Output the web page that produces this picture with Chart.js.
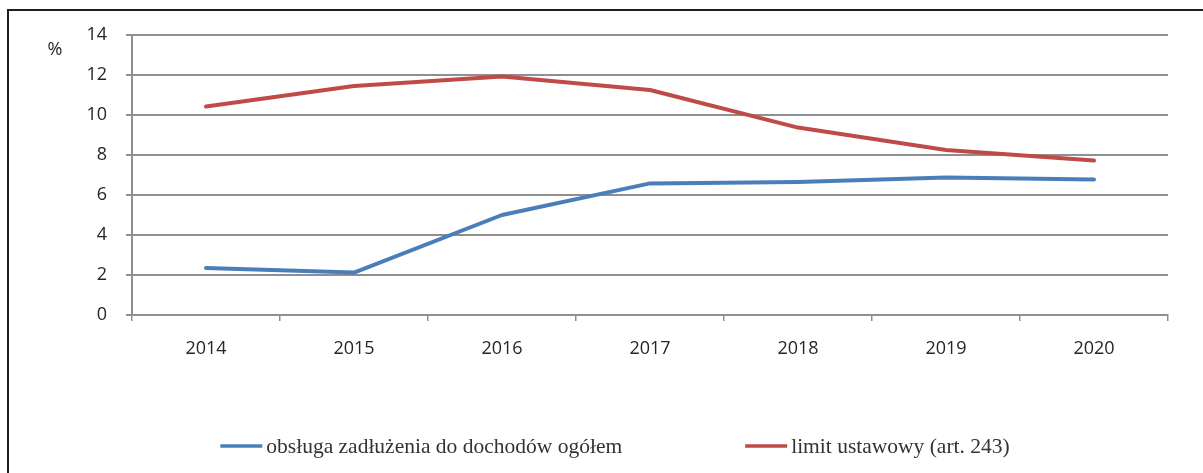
<!DOCTYPE html>
<html>
<head>
<meta charset="utf-8">
<script src="https://cdn.jsdelivr.net/npm/chart.js@4/dist/chart.umd.min.js"></script>
<style>
  html, body { margin: 0; padding: 0; background: #fff; }
  #wrap { width: 1203px; height: 473px; position: relative; }
</style>
</head>
<body>
<div id="wrap"><canvas id="chart"></canvas></div>
<script>
// --- Data ---
const years = ['2014', '2015', '2016', '2017', '2018', '2019', '2020'];
const debtService = [2.35, 2.12, 5.0, 6.58, 6.65, 6.88, 6.78];
const statutoryLimit = [10.42, 11.45, 11.92, 11.25, 9.37, 8.25, 7.72];
const seriesNames = ['obsługa zadłużenia do dochodów ogółem', 'limit ustawowy (art. 243)'];
const yTicks = [0, 2, 4, 6, 8, 10, 12, 14];

const gridColor = '#8f8f8f';
const textColor = '#262626';

// frame round the whole picture, "%" unit label and the legend underneath
const extras = {
    id: 'extras',
    beforeDraw(chart) {
        const ctx = chart.ctx;
        ctx.save();
        ctx.strokeStyle = '#1e1e1e';
        ctx.lineWidth = 2;
        ctx.beginPath();
        ctx.moveTo(8, chart.height);
        ctx.lineTo(8, 10);
        ctx.lineTo(chart.width, 10);
        ctx.stroke();
        ctx.restore();
    },
    afterDraw(chart) {
        const ctx = chart.ctx;
        const area = chart.chartArea;
        ctx.save();
        ctx.fillStyle = textColor;
        ctx.font = '18px "Open Sans"';
        ctx.textAlign = 'center';
        ctx.textBaseline = 'middle';
        ctx.fillText('%', area.left - 77, area.top + 15);

        // legend
        ctx.font = '21.5px "Liberation Serif"';
        ctx.textAlign = 'left';
        const lineLen = 42, gap = 4, spacing = 123;
        const items = chart.data.datasets.map(ds => ({
            color: ds.borderColor, label: ds.label,
            w: lineLen + gap + ctx.measureText(ds.label).width
        }));
        const total = items.reduce((s, it) => s + it.w, 0) + spacing * (items.length - 1);
        let x = 615 - total / 2;
        const y = 446;
        items.forEach(it => {
            ctx.strokeStyle = it.color;
            ctx.lineWidth = 3.5;
            ctx.beginPath();
            ctx.moveTo(x, y);
            ctx.lineTo(x + lineLen, y);
            ctx.stroke();
            ctx.fillStyle = '#333';
            ctx.fillText(it.label, x + lineLen + gap, y + 1);
            x += it.w + spacing;
        });
        ctx.restore();
    }
};

new Chart(document.getElementById('chart'), {
    type: 'line',
    data: {
        labels: years,
        datasets: [
            { label: seriesNames[0], data: debtService, borderColor: '#4a7ebb', backgroundColor: '#4a7ebb' },
            { label: seriesNames[1], data: statutoryLimit, borderColor: '#be4b48', backgroundColor: '#be4b48' }
        ]
    },
    options: {
        responsive: true,
        maintainAspectRatio: false,
        animation: false,
        layout: { padding: { top: 35, right: 35, left: 0, bottom: 0 } },
        elements: {
            line: { borderWidth: 4, tension: 0, borderCapStyle: 'round', borderJoinStyle: 'round' },
            point: { radius: 0, hoverRadius: 0 }
        },
        plugins: { legend: { display: false }, tooltip: { enabled: false } },
        scales: {
            x: {
                offset: true,
                grid: { offset: true, drawOnChartArea: false, color: gridColor, lineWidth: 1.5, tickLength: 6 },
                border: { color: gridColor, width: 2 },
                ticks: { color: textColor, font: { family: 'Open Sans', size: 18 }, padding: 17, maxRotation: 0 },
                afterFit: s => { s.height = 158; }
            },
            y: {
                min: 0, max: 14,
                afterBuildTicks: s => { s.ticks = yTicks.map(v => ({ value: v })); },
                grid: { color: gridColor, lineWidth: 2, tickLength: 6 },
                border: { color: gridColor, width: 2 },
                ticks: { color: textColor, font: { family: 'Open Sans', size: 18 }, padding: 19 },
                afterFit: s => { s.width = 132; }
            }
        }
    },
    plugins: [extras]
});
</script>
</body>
</html>
